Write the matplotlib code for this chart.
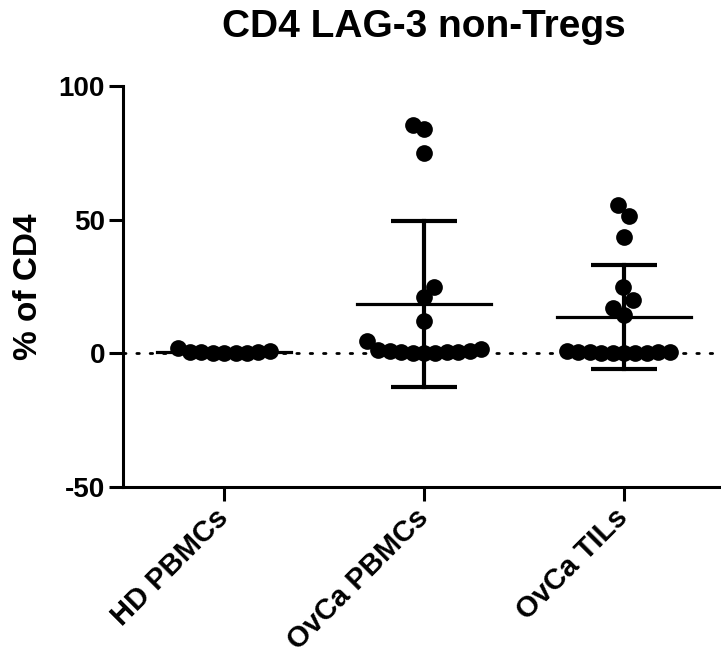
import numpy as np
import matplotlib
matplotlib.use("Agg")
import matplotlib.pyplot as plt

# ---- data ----
categories = ["HD PBMCs", "OvCa PBMCs", "OvCa TILs"]
hd_pbmcs = [0.2, 0.3, 0.5, 0.6, 0.4, 2.0, 0.8, 0.3, 0.2]
ovca_pbmcs = [84.0, 85.5, 75.0, 25.0, 21.0, 12.0, 4.5,
              0.2, 0.3, 0.3, 0.4, 0.5, 0.6, 0.8, 1.0, 1.2, 1.5]
ovca_tils = [55.6, 51.5, 43.6, 25.0, 20.0, 16.8, 14.5,
             0.1, 0.2, 0.2, 0.3, 0.3, 0.4, 0.5, 0.5, 0.6, 0.8]
groups = [hd_pbmcs, ovca_pbmcs, ovca_tils]
title = "CD4 LAG-3 non-Tregs"
ylabel = "% of CD4"
yticks = [-50, 0, 50, 100]

plt.rcParams['font.family'] = ['Liberation Sans', 'DejaVu Sans']
plt.rcParams['font.weight'] = 'bold'

W, H, DPI = 721, 657, 100
fig = plt.figure(figsize=(W / DPI, H / DPI), dpi=DPI)
ax = fig.add_axes([123 / W, 1 - 487 / H, (720 - 123) / W, (487 - 86) / H])
XL = (-0.505, 2.48)
ax.set_xlim(*XL)
ax.set_ylim(-50, 100)

# pixel scales
bb = ax.get_window_extent()
px_x = bb.width / (XL[1] - XL[0])
px_y = bb.height / 150.0

def swarm(values, dmin, kv=0.5):
    """Simple beeswarm: return x offsets (data units)."""
    vals = np.asarray(values, float)
    order = np.argsort(vals, kind="stable")
    placed = []
    offs = np.zeros(len(vals))
    flip = 1
    for i in order:
        y = vals[i] * px_y
        intervals = []
        for (xp, yp) in placed:
            dy = abs(y - yp) * kv
            if dy < dmin:
                h = np.sqrt(dmin ** 2 - dy ** 2)
                intervals.append((xp - h, xp + h))
        cands = [0.0] + [a for a, b in intervals] + [b for a, b in intervals]
        best = 0.0
        for c in sorted(cands, key=lambda c: (abs(c), -flip * c)):
            if all(not (a + 1e-6 < c < b - 1e-6) for a, b in intervals):
                best = c
                break
        if best != 0:
            flip = -flip
        placed.append((best, y))
        offs[i] = best / px_x
    return offs

# zero reference line
ax.plot(list(XL), [0, 0], color='black', lw=2.0,
        linestyle=(0, (0.9, 3.9)), dash_capstyle='round', zorder=1)

for gi, vals in enumerate(groups):
    vals = np.asarray(vals)
    offs = swarm(vals, dmin=11.5)
    ax.scatter(gi + offs, vals, s=145, color='black', zorder=3, linewidths=0)
    m = vals.mean()
    sd = vals.std(ddof=1)
    ax.plot([gi - 0.335, gi + 0.335], [m, m], color='black', lw=2.3, zorder=4)
    ax.plot([gi, gi], [m - sd, m + sd], color='black', lw=3.0, zorder=4)
    for yy in (m - sd, m + sd):
        ax.plot([gi - 0.165, gi + 0.165], [yy, yy], color='black', lw=3.0,
                zorder=4, solid_capstyle='butt')

ax.set_xticks(range(len(categories)))
ax.set_xticklabels(categories, rotation=45, ha='right', va='center',
                   rotation_mode='anchor', fontsize=21, fontweight='bold')
ax.set_yticks(yticks)
ax.set_yticklabels([str(t) for t in yticks], fontsize=20, fontweight='bold')
ax.tick_params(axis='both', length=10, width=2.2, color='black')
ax.tick_params(axis='x', pad=9)
ax.tick_params(axis='y', pad=3)
for side in ('top', 'right'):
    ax.spines[side].set_visible(False)
for side in ('left', 'bottom'):
    ax.spines[side].set_linewidth(2.2)

ax.set_ylabel(ylabel, fontsize=24, fontweight='bold')
ax.yaxis.set_label_coords(-0.132, 0.5)
fig.text(424 / W, 1 - 37 / H, title, ha='center', va='baseline',
         fontsize=28, fontweight='bold')

fig.savefig("out.png", dpi=DPI)
